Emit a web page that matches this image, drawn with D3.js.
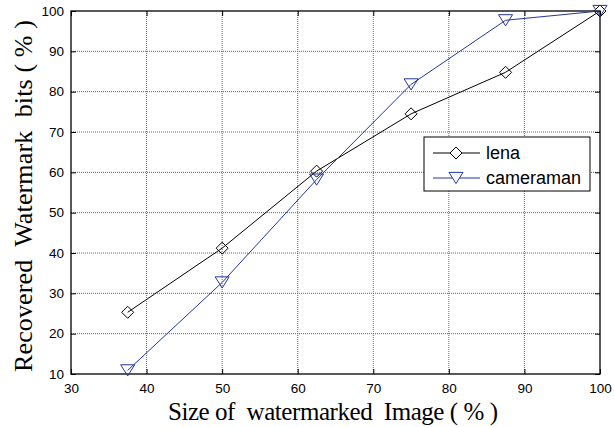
<!DOCTYPE html>
<html><head><meta charset="utf-8">
<script src="https://cdn.jsdelivr.net/npm/d3@7"></script>
<style>body{margin:0;background:#fff}svg{display:block}</style>
</head><body>
<script>
const sizes = [37.5, 50, 62.5, 75, 87.5, 100];
const lena = [25.3, 41.2, 60.3, 74.5, 84.8, 100];
const cameraman = [10.9, 32.7, 58.2, 81.8, 97.7, 100];
const xTicks = [30, 40, 50, 60, 70, 80, 90, 100];
const yTicks = [10, 20, 30, 40, 50, 60, 70, 80, 90, 100];
const seriesNames = ["lena", "cameraman"];

const W = 614, H = 427;
const m = {l: 71, t: 11, r: 14, b: 53};
const w = W - m.l - m.r, h = H - m.t - m.b;
const blue = "#23379c";

const svg = d3.select("body").append("svg").attr("width", W).attr("height", H);
const g = svg.append("g").attr("transform", `translate(${m.l},${m.t})`);
const x = d3.scaleLinear().domain([30, 100]).range([0, w]);
const y = d3.scaleLinear().domain([10, 100]).range([h, 0]);

// grid
g.append("g").selectAll("line").data(xTicks.slice(1, -1)).join("line")
  .attr("x1", d => x(d)).attr("x2", d => x(d)).attr("y1", 0).attr("y2", h)
  .attr("stroke", "#666").attr("stroke-dasharray", "1,1").attr("stroke-width", 1);
g.append("g").selectAll("line").data(yTicks.slice(1, -1)).join("line")
  .attr("y1", d => y(d)).attr("y2", d => y(d)).attr("x1", 0).attr("x2", w)
  .attr("stroke", "#666").attr("stroke-dasharray", "1,1").attr("stroke-width", 1);

// axes
const tickFont = "Liberation Sans, Arial, sans-serif";
const ax = g.append("g").attr("transform", `translate(0,${h})`)
  .call(d3.axisBottom(x).tickValues(xTicks).tickSizeInner(-5).tickSizeOuter(0).tickPadding(9));
const ay = g.append("g")
  .call(d3.axisLeft(y).tickValues(yTicks).tickSizeInner(-5).tickSizeOuter(0).tickPadding(7));
const at = g.append("g")
  .call(d3.axisTop(x).tickValues(xTicks).tickSizeInner(-5).tickSizeOuter(0).tickFormat(""));
const ar = g.append("g").attr("transform", `translate(${w},0)`)
  .call(d3.axisRight(y).tickValues(yTicks).tickSizeInner(-5).tickSizeOuter(0).tickFormat(""));
[ax, ay, at, ar].forEach(a => {
  a.select(".domain").remove();
  a.selectAll("line").attr("stroke", "#000");
  a.selectAll("text").attr("font-family", tickFont).attr("font-size", 13.5).attr("fill", "#000");
});
g.append("rect").attr("x", 0).attr("y", 0).attr("width", w).attr("height", h)
  .attr("fill", "none").attr("stroke", "#000").attr("stroke-width", 1.3);

// lines
const line = d3.line().x(d => x(d[0])).y(d => y(d[1]));
const diamond = (s) => `M0,${-s}L${s},0L0,${s}L${-s},0Z`;
const tri = (s) => `M${-s},${-s*0.8}L${s},${-s*0.8}L0,${s*0.8}Z`;
const data = [
  {name: seriesNames[0], vals: lena, color: "#000", marker: diamond(6)},
  {name: seriesNames[1], vals: cameraman, color: blue, marker: tri(7)}
];
data.forEach(s => {
  const pts = sizes.map((v, i) => [v, s.vals[i]]);
  g.append("path").datum(pts).attr("d", line).attr("fill", "none")
    .attr("stroke", s.color).attr("stroke-width", 1);
  g.append("g").selectAll("path").data(pts).join("path")
    .attr("transform", d => `translate(${x(d[0])},${y(d[1])})`)
    .attr("d", s.marker).attr("fill", "none").attr("stroke", s.color).attr("stroke-width", 1);
});

// legend
const lg = svg.append("g").attr("transform", "translate(424,137)");
lg.append("rect").attr("width", 166).attr("height", 54).attr("fill", "#fff")
  .attr("stroke", "#000").attr("stroke-width", 1);
data.forEach((s, i) => {
  const yy = 16 + i * 25;
  lg.append("line").attr("x1", 9).attr("x2", 56).attr("y1", yy).attr("y2", yy)
    .attr("stroke", s.color).attr("stroke-width", 1);
  lg.append("path").attr("transform", `translate(32,${yy})`).attr("d", s.marker)
    .attr("fill", "#fff").attr("stroke", s.color).attr("stroke-width", 1);
  lg.append("text").attr("x", 62).attr("y", yy).attr("dy", "0.36em")
    .attr("font-family", tickFont).attr("font-size", 18).attr("fill", "#000").text(s.name);
});

// titles
const serif = "Liberation Serif, Times New Roman, serif";
svg.append("text").attr("x", 168).attr("y", 420)
  .attr("font-family", serif).attr("font-size", 25).attr("fill", "#000")
  .attr("textLength", 330).attr("lengthAdjust", "spacing")
  .style("white-space", "pre").text("Size of  watermarked  Image ( % )");
svg.append("text").attr("transform", "translate(32,372) rotate(-90)")
  .attr("font-family", serif).attr("font-size", 26).attr("fill", "#000")
  .attr("textLength", 352).attr("lengthAdjust", "spacing")
  .style("white-space", "pre").text("Recovered  Watermark  bits ( % )");
</script>
</body></html>
